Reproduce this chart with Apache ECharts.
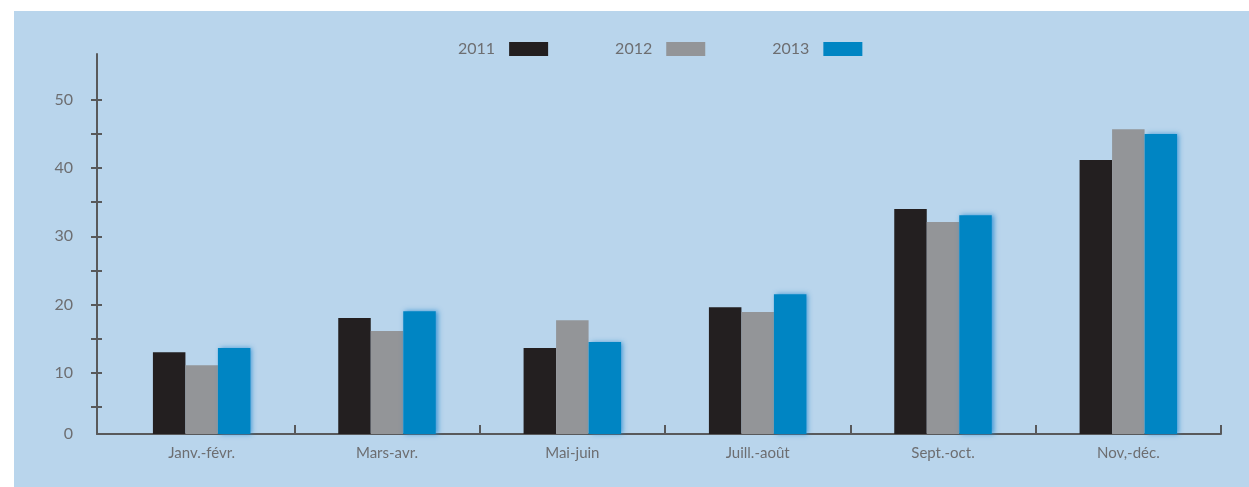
<!DOCTYPE html>
<html>
<head>
<meta charset="utf-8">
<script src="https://cdn.jsdelivr.net/npm/echarts@6/dist/echarts.min.js"></script>
<style>
  html, body { margin: 0; padding: 0; background: #ffffff; }
  #bg { position: absolute; left: 14px; top: 11px; width: 1235px; height: 476px; background: #b9d5ec; }
  #chart { position: absolute; left: 0; top: 0; width: 1249px; height: 487px; }
</style>
</head>
<body>
<div id="bg"></div>
<div id="chart"></div>
<script>
const categories = ['Janv.-févr.', 'Mars-avr.', 'Mai-juin', 'Juill.-août', 'Sept.-oct.', 'Nov,-déc.'];
const seriesNames = ['2011', '2012', '2013'];
const values2011 = [13.0, 18.0, 13.6, 19.6, 34.0, 41.2];
const values2012 = [11.1, 16.1, 17.7, 18.9, 32.1, 45.7];
const values2013 = [13.6, 19.0, 14.5, 21.5, 33.1, 45.0];
const yTickValues = [5, 10, 15, 20, 25, 30, 35, 40, 45, 50];
const yLabelValues = [1, 10, 20, 30, 40, 50];
const yLabelTexts = ['0', '10', '20', '30', '40', '50'];

const colors = ['#231f20', '#939598', '#0085c3'];
const textColor = '#6d6e71';
const axisColor = '#58595b';
const fontFamily = 'Lato, "Open Sans", sans-serif';
const yMin = 1, yMax = 56.74;

const chart = echarts.init(document.getElementById('chart'), null, { renderer: 'canvas' });

const barSeries = [values2011, values2012, values2013].map((vals, i) => ({
  name: seriesNames[i],
  type: 'bar',
  xAxisIndex: 0,
  yAxisIndex: 0,
  data: vals,
  barWidth: 32.5,
  barGap: '0%',
  clip: true,
  itemStyle: i === 2 ? {
    color: colors[i],
    shadowColor: 'rgba(40,140,210,0.85)',
    shadowBlur: 5,
    shadowOffsetX: 2
  } : { color: colors[i] },
  emphasis: { disabled: true }
}));

chart.setOption({
  animation: false,
  backgroundColor: 'transparent',
  color: colors,
  textStyle: { fontFamily: fontFamily },
  legend: {
    data: seriesNames,
    left: 453,
    top: 36,
    align: 'right',
    itemWidth: 39,
    itemHeight: 14,
    itemGap: 67,
    icon: 'rect',
    textStyle: { color: textColor, fontSize: 16, fontFamily: fontFamily, padding: [0, 9, 0, 0] }
  },
  grid: [
    { left: 109, right: 28, top: 54, bottom: 53 },
    { left: 97, right: 28, top: 54, bottom: 53 }
  ],
  xAxis: [
    {
      type: 'category',
      gridIndex: 0,
      data: categories,
      boundaryGap: true,
      axisLine: { show: false },
      axisTick: {
        show: true,
        inside: true,
        length: 9,
        interval: function (index) { return index > 0; },
        lineStyle: { color: axisColor, width: 2 }
      },
      axisLabel: { color: textColor, fontSize: 15, margin: 12, fontFamily: fontFamily, interval: 0 },
      splitLine: { show: false }
    },
    {
      type: 'value',
      gridIndex: 1,
      min: 0,
      max: 1,
      axisLine: { show: true, onZero: false, lineStyle: { color: axisColor, width: 2 } },
      axisTick: { show: false },
      axisLabel: { show: false },
      splitLine: { show: false }
    }
  ],
  yAxis: [
    {
      type: 'value',
      gridIndex: 0,
      min: yMin,
      max: yMax,
      show: false,
      splitLine: { show: false }
    },
    {
      type: 'value',
      gridIndex: 1,
      position: 'left',
      min: yMin,
      max: yMax,
      axisLine: { show: true, onZero: false, lineStyle: { color: axisColor, width: 2 } },
      axisTick: {
        show: true,
        length: 6,
        customValues: yTickValues,
        lineStyle: { color: axisColor, width: 2 }
      },
      axisLabel: {
        color: textColor,
        fontSize: 16,
        margin: 24,
        fontFamily: fontFamily,
        customValues: yLabelValues,
        formatter: function (v) {
          const idx = yLabelValues.indexOf(v);
          return idx >= 0 ? yLabelTexts[idx] : '';
        }
      },
      splitLine: { show: false }
    },
    {
      type: 'value',
      gridIndex: 1,
      position: 'left',
      min: yMin,
      max: yMax,
      axisLine: { show: false, onZero: false },
      axisTick: {
        show: true,
        inside: true,
        length: 5,
        customValues: yTickValues,
        lineStyle: { color: axisColor, width: 2 }
      },
      axisLabel: { show: false },
      splitLine: { show: false }
    }
  ],
  series: barSeries
});
</script>
</body>
</html>
